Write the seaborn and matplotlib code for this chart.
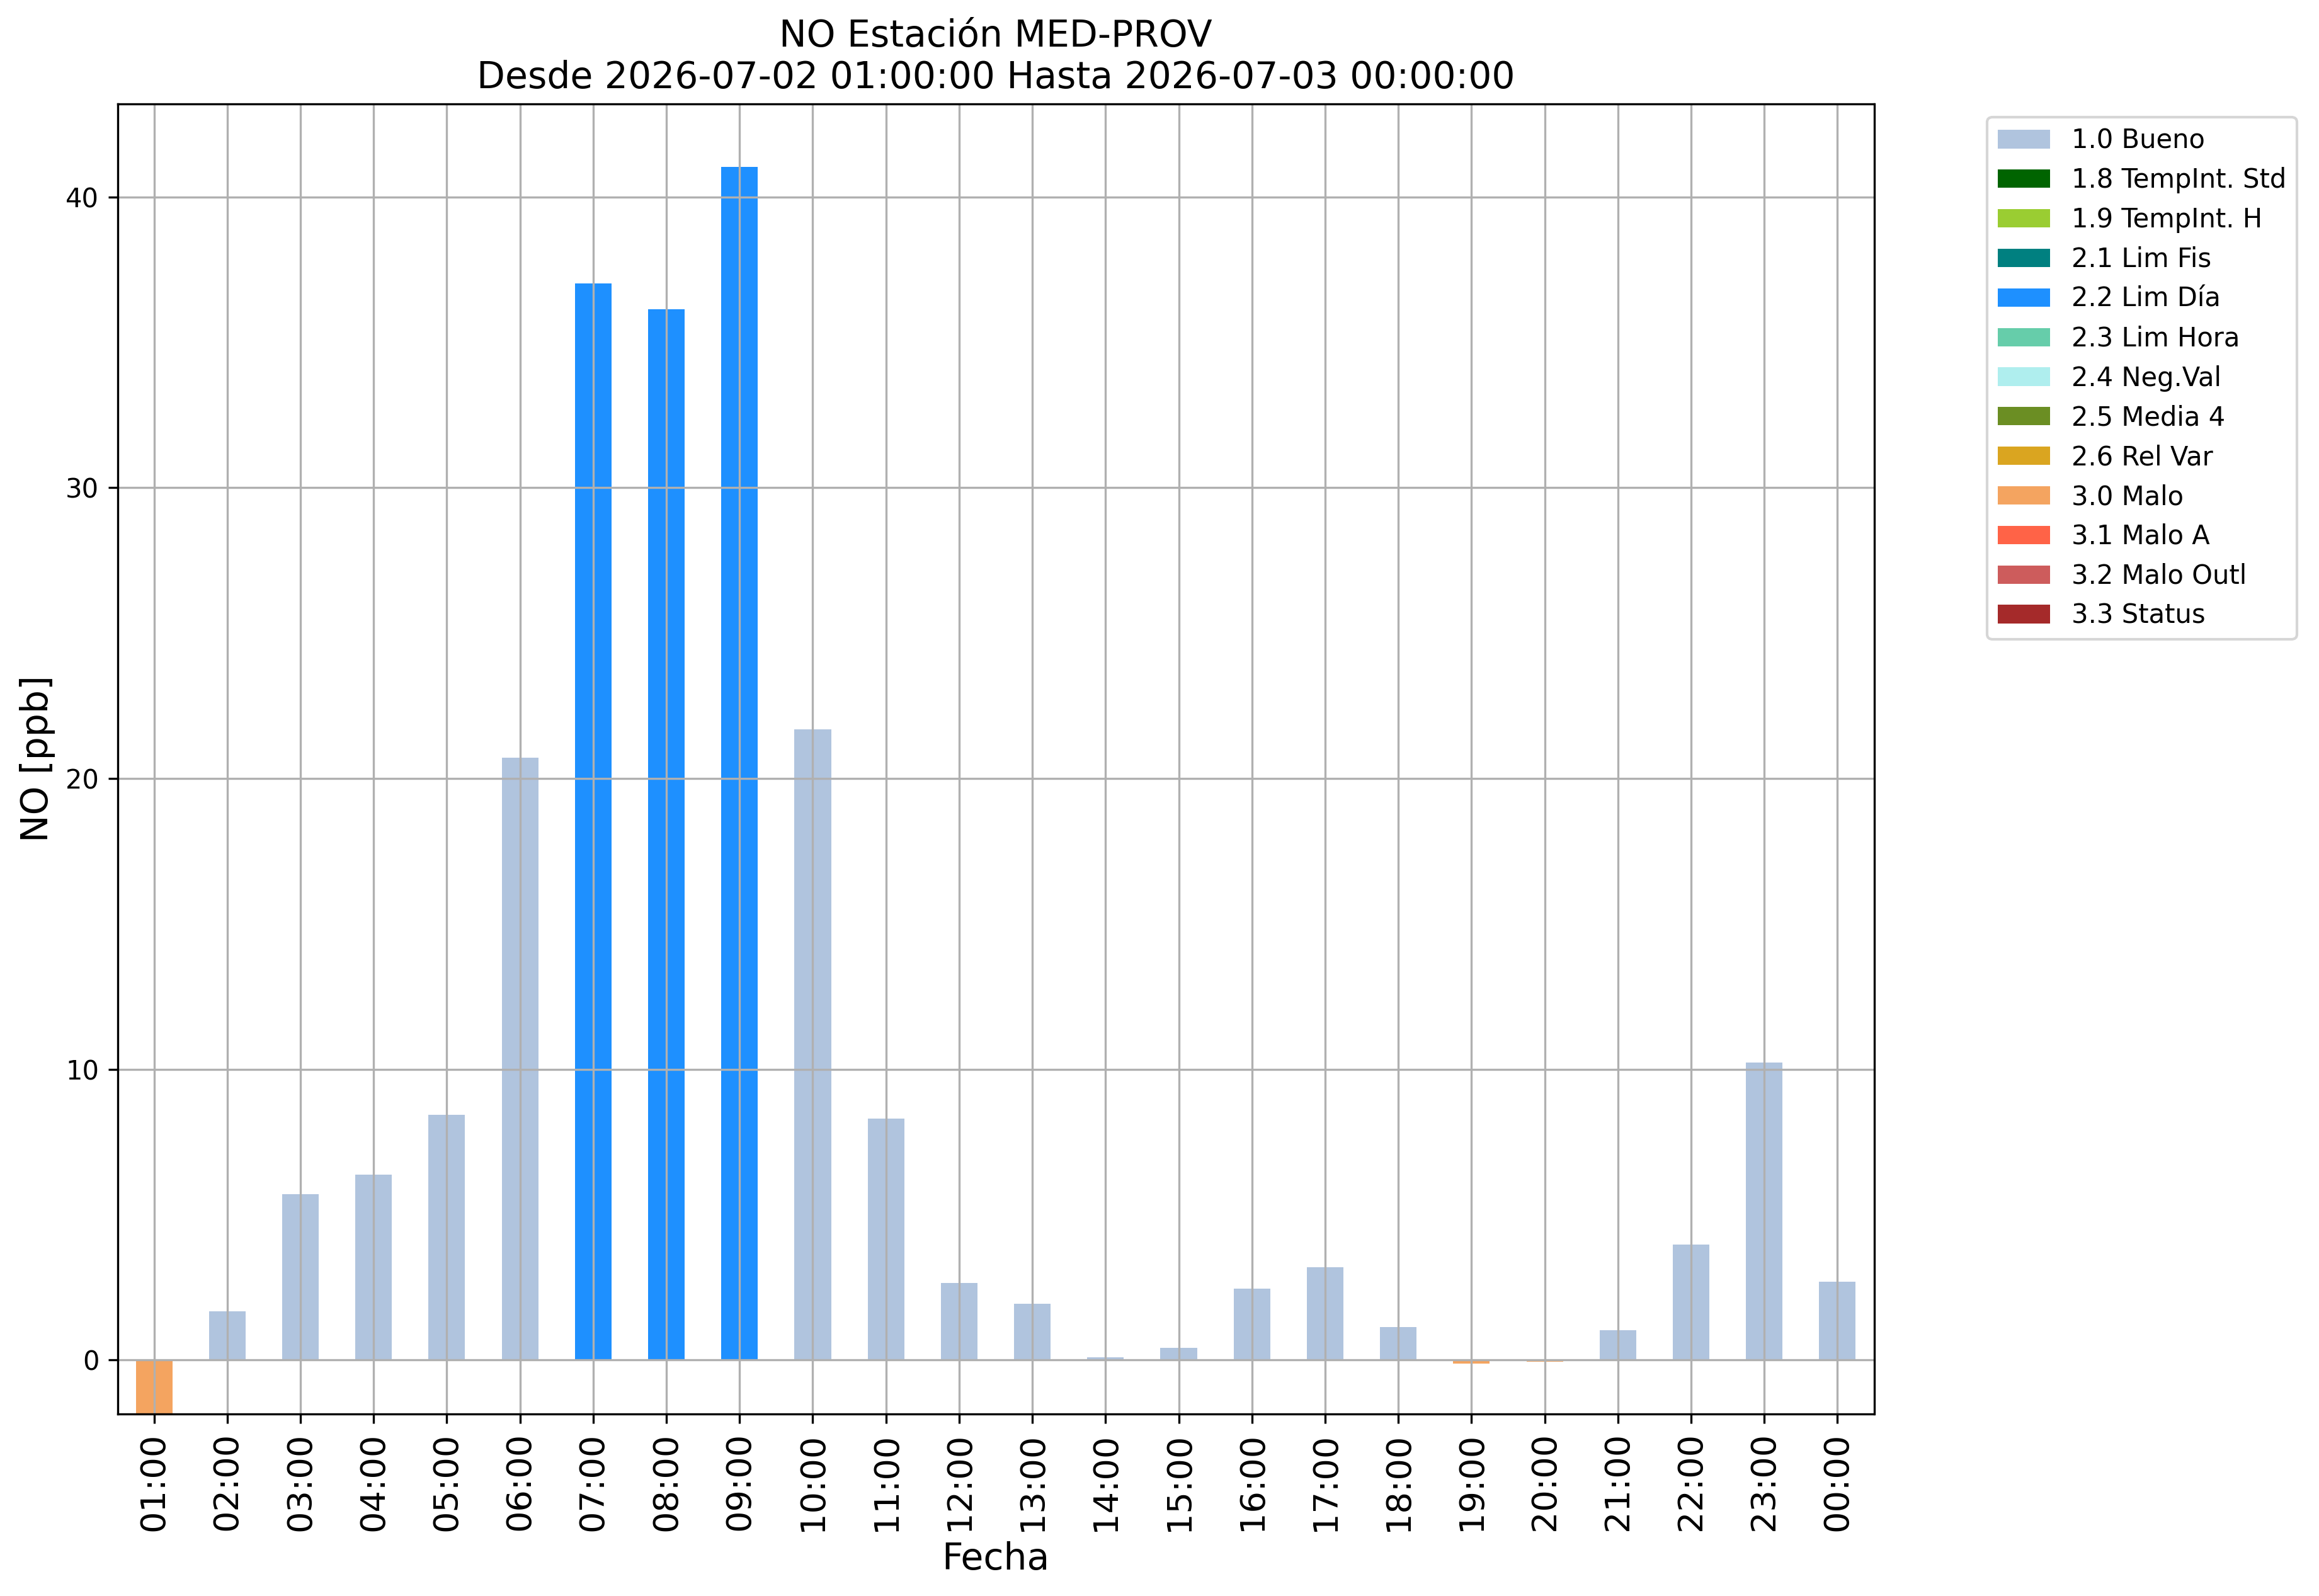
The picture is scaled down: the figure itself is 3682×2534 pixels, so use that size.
import matplotlib
matplotlib.use("Agg")
import matplotlib.pyplot as plt
from matplotlib.patches import Patch
import seaborn as sns
import pandas as pd

# ---- data ----
hours = ["01:00", "02:00", "03:00", "04:00", "05:00", "06:00", "07:00", "08:00",
         "09:00", "10:00", "11:00", "12:00", "13:00", "14:00", "15:00", "16:00",
         "17:00", "18:00", "19:00", "20:00", "21:00", "22:00", "23:00", "00:00"]
values = [-6.0, 1.68, 5.71, 6.38, 8.42, 20.72, 37.03, 36.14,
          41.04, 21.68, 8.30, 2.65, 1.94, 0.10, 0.41, 2.45,
          3.19, 1.12, -0.13, -0.06, 1.02, 3.96, 10.22, 2.68]
flags = ["3.0 Malo", "1.0 Bueno", "1.0 Bueno", "1.0 Bueno", "1.0 Bueno", "1.0 Bueno",
         "2.2 Lim Día", "2.2 Lim Día", "2.2 Lim Día", "1.0 Bueno", "1.0 Bueno", "1.0 Bueno",
         "1.0 Bueno", "1.0 Bueno", "1.0 Bueno", "1.0 Bueno", "1.0 Bueno", "1.0 Bueno",
         "3.0 Malo", "3.0 Malo", "1.0 Bueno", "1.0 Bueno", "1.0 Bueno", "1.0 Bueno"]
flag_labels = ["1.0 Bueno", "1.8 TempInt. Std", "1.9 TempInt. H", "2.1 Lim Fis",
               "2.2 Lim Día", "2.3 Lim Hora", "2.4 Neg.Val", "2.5 Media 4",
               "2.6 Rel Var", "3.0 Malo", "3.1 Malo A", "3.2 Malo Outl", "3.3 Status"]
flag_colors = ["lightsteelblue", "darkgreen", "yellowgreen", "teal", "dodgerblue",
               "mediumaquamarine", "paleturquoise", "olivedrab", "goldenrod",
               "sandybrown", "tomato", "indianred", "brown"]

title = "NO Estación MED-PROV\nDesde 2026-07-02 01:00:00 Hasta 2026-07-03 00:00:00"

df = pd.DataFrame({"hora": hours, "valor": values, "flag": flags})
palette = dict(zip(flag_labels, flag_colors))

W, H, DPI = 3682, 2534, 300
fig = plt.figure(figsize=(W / DPI, H / DPI), dpi=DPI)
ax = fig.add_axes([186.5 / W, 1 - 2245 / H, (2975.5 - 186.5) / W, (2245 - 165) / H])

sns.barplot(data=df, x="hora", y="valor", hue="flag", hue_order=flag_labels,
            order=hours, palette=palette, dodge=False, width=0.5,
            errorbar=None, legend=False, saturation=1, ax=ax)

ax.set_xlim(-0.5, len(hours) - 0.5)
ax.set_ylim(-1.86, 43.2)
ax.grid(True, color="#b0b0b0", linewidth=0.8)
ax.set_axisbelow("line")

ax.set_title(title, fontsize=14)
ax.set_xlabel("Fecha", fontsize=14)
ax.set_ylabel("NO [ppb]", fontsize=14)
ax.tick_params(axis="x", labelsize=13, labelrotation=90)
ax.tick_params(axis="y", labelsize=10)

handles = [Patch(facecolor=c, label=l) for l, c in zip(flag_labels, flag_colors)]
ax.legend(handles=handles, loc="upper left", bbox_to_anchor=(1.057, 1.0),
          fontsize=10, borderaxespad=0.5)

fig.savefig("out.png", dpi=DPI)
